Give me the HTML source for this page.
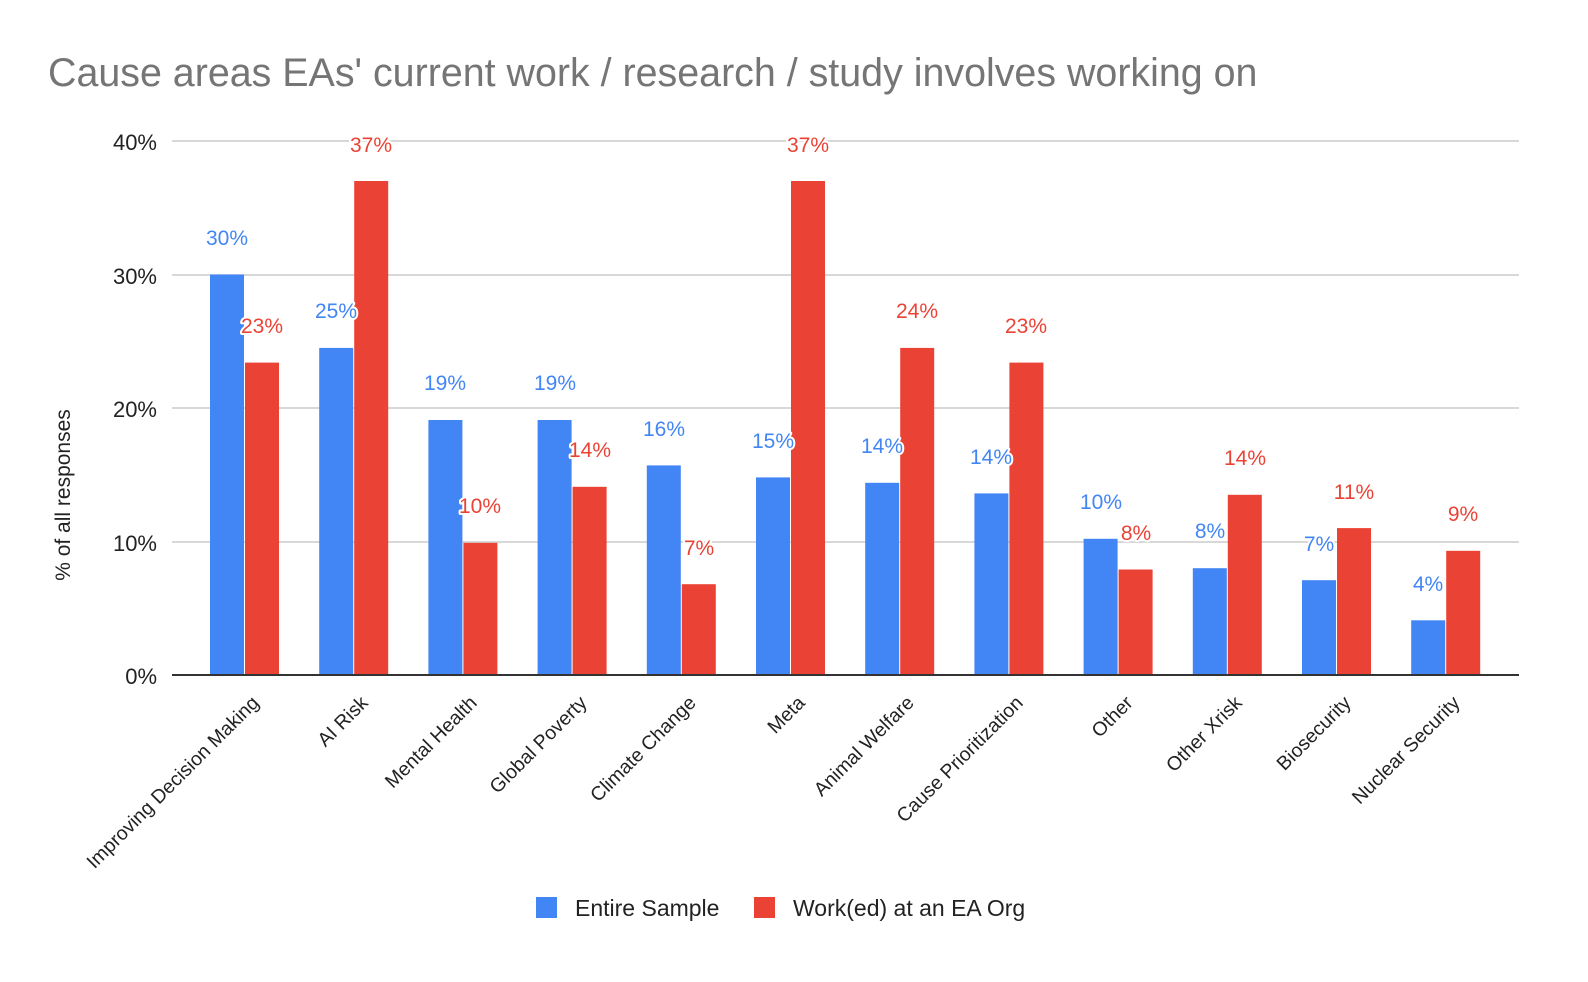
<!DOCTYPE html>
<html><head><meta charset="utf-8"><style>
html,body{margin:0;padding:0;background:#fff;overflow:hidden;}
svg{display:block;font-family:"Liberation Sans",Arial,sans-serif;}
.lab{font-size:21px;text-anchor:middle;stroke:#fff;stroke-width:4px;paint-order:stroke;stroke-linejoin:round;}
.b{fill:#4285f4}.r{fill:#ea4335}
</style></head><body>
<svg width="1588" height="982" viewBox="0 0 1588 982" xmlns="http://www.w3.org/2000/svg">
<text x="48" y="86" font-size="39.4" fill="#757575">Cause areas EAs' current work / research / study involves working on</text>
<g stroke="#cccccc" stroke-width="1.5">
<line x1="172" x2="1519" y1="141" y2="141"/><line x1="172" x2="1519" y1="275" y2="275"/>
<line x1="172" x2="1519" y1="408" y2="408"/><line x1="172" x2="1519" y1="542" y2="542"/>
</g>
<g font-size="22" fill="#222" text-anchor="end">
<text x="157" y="150">40%</text><text x="157" y="284">30%</text><text x="157" y="417">20%</text><text x="157" y="551">10%</text><text x="157" y="684">0%</text>
</g>
<text transform="translate(70,495) rotate(-90)" font-size="21" fill="#222" text-anchor="middle">% of all responses</text>
<g>
<rect class="b" x="210" y="274.5" width="34" height="400.5"/><rect class="r" x="245" y="362.6" width="34" height="312.4"/>
<rect class="b" x="319.2" y="347.9" width="34" height="327.1"/><rect class="r" x="354.2" y="181" width="34" height="494"/>
<rect class="b" x="428.4" y="420" width="34" height="255"/><rect class="r" x="463.4" y="542.8" width="34" height="132.2"/>
<rect class="b" x="537.6" y="420" width="34" height="255"/><rect class="r" x="572.6" y="486.8" width="34" height="188.2"/>
<rect class="b" x="646.8" y="465.4" width="34" height="209.6"/><rect class="r" x="681.8" y="584.2" width="34" height="90.8"/>
<rect class="b" x="756" y="477.4" width="34" height="197.6"/><rect class="r" x="791" y="181" width="34" height="494"/>
<rect class="b" x="865.2" y="482.8" width="34" height="192.2"/><rect class="r" x="900.2" y="347.9" width="34" height="327.1"/>
<rect class="b" x="974.4" y="493.4" width="34" height="181.6"/><rect class="r" x="1009.4" y="362.6" width="34" height="312.4"/>
<rect class="b" x="1083.6" y="538.8" width="34" height="136.2"/><rect class="r" x="1118.6" y="569.5" width="34" height="105.5"/>
<rect class="b" x="1192.8" y="568.2" width="34" height="106.8"/><rect class="r" x="1227.8" y="494.8" width="34" height="180.2"/>
<rect class="b" x="1302" y="580.2" width="34" height="94.8"/><rect class="r" x="1337" y="528.1" width="34" height="146.9"/>
<rect class="b" x="1411.2" y="620.3" width="34" height="54.7"/><rect class="r" x="1446.2" y="550.8" width="34" height="124.2"/>
</g>
<g>
<text class="lab b" x="227" y="245">30%</text><text class="lab r" x="262" y="333">23%</text>
<text class="lab b" x="336" y="318">25%</text><text class="lab r" x="371" y="152">37%</text>
<text class="lab b" x="445" y="390">19%</text><text class="lab r" x="480" y="513">10%</text>
<text class="lab b" x="555" y="390">19%</text><text class="lab r" x="590" y="457">14%</text>
<text class="lab b" x="664" y="436">16%</text><text class="lab r" x="699" y="555">7%</text>
<text class="lab b" x="773" y="448">15%</text><text class="lab r" x="808" y="152">37%</text>
<text class="lab b" x="882" y="453">14%</text><text class="lab r" x="917" y="318">24%</text>
<text class="lab b" x="991" y="464">14%</text><text class="lab r" x="1026" y="333">23%</text>
<text class="lab b" x="1101" y="509">10%</text><text class="lab r" x="1136" y="540">8%</text>
<text class="lab b" x="1210" y="538">8%</text><text class="lab r" x="1245" y="465">14%</text>
<text class="lab b" x="1319" y="551">7%</text><text class="lab r" x="1354" y="499">11%</text>
<text class="lab b" x="1428" y="591">4%</text><text class="lab r" x="1463" y="521">9%</text>
</g>
<line x1="172" x2="1519" y1="675" y2="675" stroke="#333" stroke-width="2"/>
<g font-size="19.5" fill="#222" text-anchor="end">
<text transform="translate(260,704) rotate(-45)">Improving Decision Making</text>
<text transform="translate(369,704) rotate(-45)">AI Risk</text>
<text transform="translate(478,704) rotate(-45)">Mental Health</text>
<text transform="translate(588,704) rotate(-45)">Global Poverty</text>
<text transform="translate(697,704) rotate(-45)">Climate Change</text>
<text transform="translate(806,704) rotate(-45)">Meta</text>
<text transform="translate(915,704) rotate(-45)">Animal Welfare</text>
<text transform="translate(1024,704) rotate(-45)">Cause Prioritization</text>
<text transform="translate(1134,704) rotate(-45)">Other</text>
<text transform="translate(1243,704) rotate(-45)">Other Xrisk</text>
<text transform="translate(1352,704) rotate(-45)">Biosecurity</text>
<text transform="translate(1461,704) rotate(-45)">Nuclear Security</text>
</g>
<rect x="536" y="897" width="21" height="21" fill="#4285f4"/>
<text x="575" y="916" font-size="23" fill="#222">Entire Sample</text>
<rect x="754" y="897" width="21" height="21" fill="#ea4335"/>
<text x="793" y="916" font-size="23" fill="#222">Work(ed) at an EA Org</text>
</svg>
</body></html>
